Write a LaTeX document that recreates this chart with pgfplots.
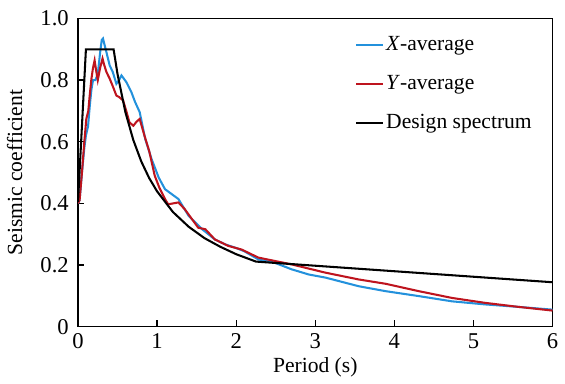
\documentclass[border=0pt]{standalone}
\usepackage{pgfplots}
\pgfplotsset{compat=1.18}
\usepackage{fontspec}
\setmainfont{Liberation Serif}
\definecolor{xblue}{RGB}{35,145,220}
\definecolor{yred}{RGB}{190,20,30}
\begin{document}
\fontsize{10}{12}\selectfont
\begin{tikzpicture}
\begin{axis}[
  scale only axis,
  width=231pt, height=150pt,
  xmin=0, xmax=6, ymin=0, ymax=1,
  xtick={0,1,2,3,4,5,6},
  xticklabels={0,1,2,3,4,5,6},
  ytick={0,0.2,0.4,0.6,0.8,1.0},
  yticklabels={0,0.2,0.4,0.6,0.8,1.0},
  /pgf/number format/assume math mode=true,
  tick align=inside,
  xtick pos=bottom, ytick pos=left,
  major tick length=3pt,
  axis line style={line width=0.7pt},
  tick style={line width=0.6pt, black},
  xticklabel style={font=\fontsize{11}{13}\selectfont},
  yticklabel style={font=\fontsize{11}{13}\selectfont, xshift=-1pt},
  xlabel={Period (s)},
  ylabel={Seismic coefficient},
  label style={font=\fontsize{10.5}{12}\selectfont},
  xlabel style={yshift=3pt},
  ylabel style={yshift=2pt},
  legend cell align=left,
  legend style={draw=none, fill=none, at={(axis cs:3.5,0.95)}, anchor=north west,
    font=\fontsize{10.5}{12}\selectfont, row sep=8.5pt, inner sep=0pt,
    nodes={inner xsep=1pt, inner ysep=1pt}},
  legend image code/.code={\draw[#1] (0cm,0cm) -- (0.46cm,0cm);},
]
\addplot[xblue, line width=1pt] coordinates {
(0,0.40)(0.02,0.41)(0.05,0.50)(0.08,0.58)(0.10,0.62)(0.127,0.65)(0.15,0.72)(0.17,0.77)(0.19,0.80)(0.22,0.80)(0.25,0.82)(0.28,0.89)(0.30,0.93)(0.316,0.935)(0.33,0.92)(0.36,0.89)(0.40,0.848)(0.44,0.826)(0.485,0.788)(0.52,0.80)(0.55,0.815)(0.61,0.794)(0.675,0.761)(0.72,0.73)(0.78,0.696)(0.85,0.609)(0.93,0.544)(1.02,0.484)(1.10,0.446)(1.27,0.414)(1.40,0.359)(1.57,0.316)(1.73,0.283)(1.86,0.267)(1.99,0.256)(2.10,0.245)(2.28,0.218)(2.49,0.207)(2.70,0.186)(2.92,0.169)(3.13,0.159)(3.55,0.131)(3.89,0.115)(4.31,0.099)(4.73,0.082)(5.15,0.072)(5.57,0.064)(6.0,0.055)
};
\addlegendentry{\textit{X}-average}
\addplot[yred, line width=1pt] coordinates {
(0,0.40)(0.02,0.41)(0.05,0.50)(0.08,0.60)(0.105,0.674)(0.13,0.70)(0.148,0.75)(0.17,0.805)(0.19,0.84)(0.21,0.864)(0.23,0.83)(0.25,0.80)(0.28,0.84)(0.31,0.87)(0.33,0.85)(0.36,0.826)(0.40,0.805)(0.44,0.78)(0.485,0.75)(0.52,0.745)(0.57,0.734)(0.61,0.70)(0.65,0.663)(0.70,0.652)(0.74,0.665)(0.78,0.674)(0.84,0.62)(0.90,0.57)(0.97,0.49)(1.03,0.45)(1.10,0.414)(1.14,0.397)(1.27,0.403)(1.35,0.381)(1.52,0.321)(1.61,0.316)(1.73,0.283)(1.90,0.262)(2.07,0.25)(2.28,0.224)(2.49,0.213)(2.70,0.202)(3.13,0.175)(3.55,0.153)(3.89,0.139)(4.31,0.115)(4.73,0.093)(5.15,0.077)(5.57,0.064)(6.0,0.052)
};
\addlegendentry{\textit{Y}-average}
\addplot[black, line width=1pt] coordinates {
(0,0.405)(0.1,0.9)(0.45,0.9)(0.5,0.819)(0.6,0.695)(0.7,0.605)(0.8,0.536)(0.9,0.482)(1.0,0.439)(1.2,0.372)(1.4,0.324)(1.6,0.287)(1.8,0.259)(2.0,0.235)(2.25,0.211)(6,0.144)
};
\addlegendentry{Design spectrum}
\end{axis}
\path (current axis.north west) ++(0,9pt);
\end{tikzpicture}
\end{document}
